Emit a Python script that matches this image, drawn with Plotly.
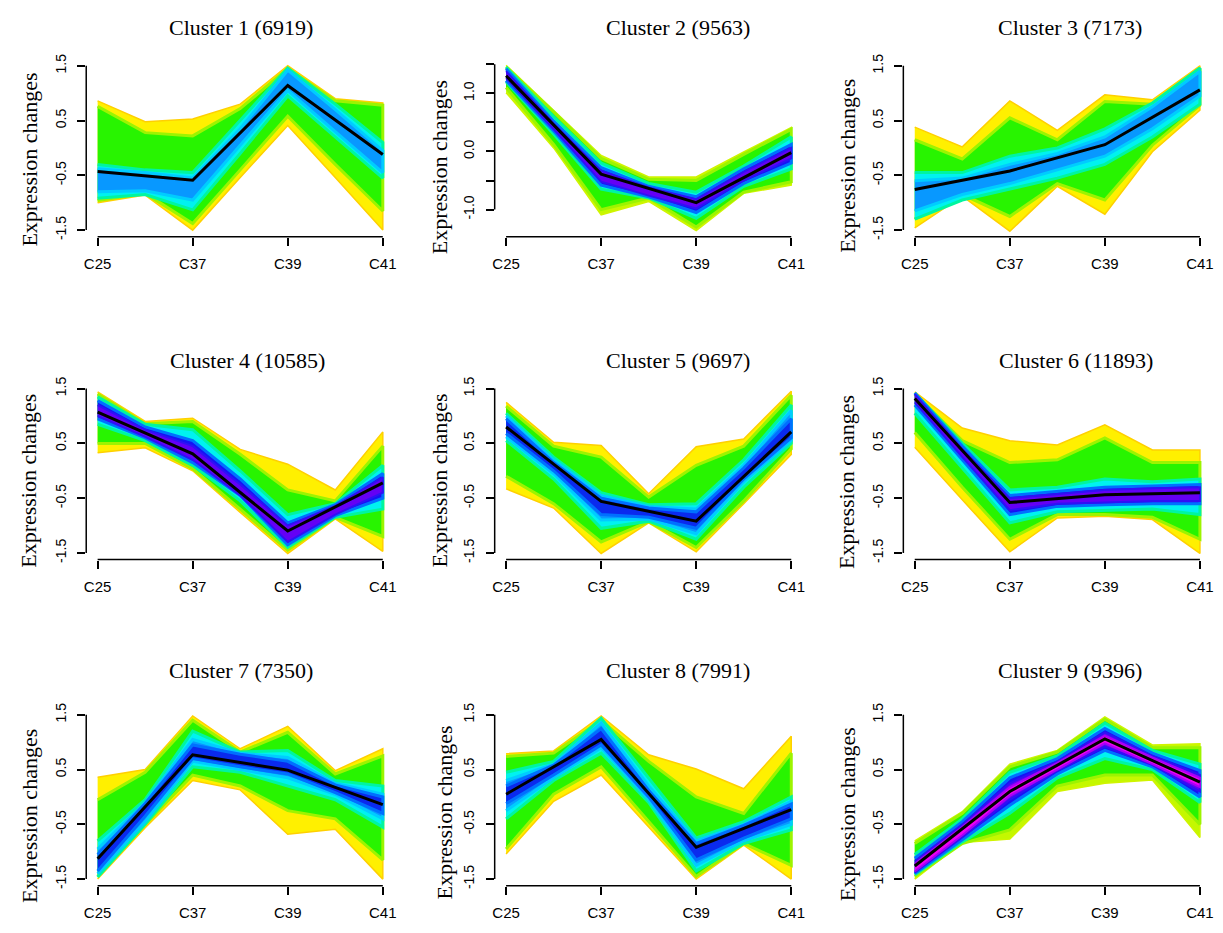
import plotly.graph_objects as go

# ---------------- data ----------------
time_labels = ["C25", "C37", "C39", "C41"]
time_pos = [0, 1, 2, 3]
knots = [0, 0.5, 1, 1.5, 2, 2.5, 3]

cluster_ids = [1, 2, 3, 4, 5, 6, 7, 8, 9]
cluster_sizes = [6919, 9563, 7173, 10585, 9697, 11893, 7350, 7991, 9396]

# centroid lines
c1_center = [-0.43, -0.59, 1.14, -0.12]
c2_center = [1.30, -0.39, -0.88, -0.02]
c3_center = [-0.76, -0.42, 0.06, 1.06]
c4_center = [1.07, 0.31, -1.10, -0.22]
c5_center = [0.80, -0.56, -0.92, 0.71]
c6_center = [1.32, -0.58, -0.44, -0.40]
c7_center = [-1.13, 0.77, 0.49, -0.14]
c8_center = [0.05, 1.05, -0.92, -0.23]
c9_center = [-1.26, 0.10, 1.06, 0.27]

# membership bands (upper edge, lower edge) at knots, outer -> inner
c1_bands = [
    ("outer_y", [0.86, 0.48, 0.53, 0.80, 1.50, 0.90, 0.82], [-1.00, -0.86, -1.50, -0.54, 0.41, -0.54, -1.50]),
    ("green", [0.76, 0.28, 0.22, 0.72, 1.45, 0.86, 0.78], [-0.96, -0.83, -1.38, -0.40, 0.58, -0.30, -1.15]),
    ("cyan", [-0.30, -0.40, -0.45, 0.50, 1.46, 0.80, 0.10], [-0.92, -0.85, -1.13, -0.10, 0.95, 0.20, -0.55]),
    ("sky", [-0.38, -0.45, -0.55, 0.35, 1.42, 0.70, -0.05], [-0.80, -0.78, -0.95, 0.05, 1.05, 0.30, -0.45]),
]
c2_bands = [
    ("outer_yg", [1.48, 0.70, -0.07, -0.44, -0.44, -0.01, 0.41], [1.01, 0.06, -1.09, -0.86, -1.36, -0.72, -0.58]),
    ("green", [1.45, 0.68, -0.12, -0.48, -0.50, -0.05, 0.38], [1.10, 0.12, -1.00, -0.80, -1.30, -0.70, -0.52]),
    ("cyan", [1.45, 0.60, -0.20, -0.55, -0.70, -0.25, 0.25], [1.20, 0.30, -0.65, -0.80, -1.15, -0.60, -0.30]),
    ("blue", [1.42, 0.52, -0.28, -0.60, -0.78, -0.30, 0.12], [1.22, 0.35, -0.58, -0.78, -1.05, -0.55, -0.20]),
    ("purple", [1.38, 0.48, -0.33, -0.62, -0.82, -0.35, 0.06], [1.26, 0.38, -0.52, -0.76, -0.98, -0.50, -0.12]),
]
c3_bands = [
    ("outer_y", [0.38, 0.02, 0.86, 0.32, 0.97, 0.88, 1.50], [-1.46, -0.88, -1.52, -0.70, -1.21, -0.07, 0.69]),
    ("green", [0.15, -0.20, 0.55, 0.15, 0.85, 0.80, 1.45], [-1.30, -0.85, -1.25, -0.65, -0.95, 0.05, 0.78]),
    ("cyan", [-0.45, -0.45, -0.15, 0.00, 0.35, 0.82, 1.46], [-1.30, -0.95, -0.75, -0.55, -0.30, 0.20, 0.80]),
    ("sky", [-0.60, -0.55, -0.30, -0.10, 0.20, 0.75, 1.40], [-1.15, -0.85, -0.65, -0.40, -0.15, 0.35, 0.95]),
]
c4_bands = [
    ("outer_y", [1.44, 0.90, 0.96, 0.39, 0.12, -0.35, 0.71], [0.33, 0.42, 0.00, -0.76, -1.51, -0.88, -1.47]),
    ("green", [1.40, 0.86, 0.90, 0.30, -0.35, -0.55, 0.45], [0.50, 0.50, 0.04, -0.70, -1.45, -0.85, -1.20]),
    ("cyan", [1.35, 0.85, 0.75, 0.00, -0.80, -0.60, 0.10], [0.85, 0.55, 0.10, -0.55, -1.40, -0.85, -0.70]),
    ("blue", [1.28, 0.80, 0.55, -0.15, -0.95, -0.62, -0.05], [0.95, 0.60, 0.15, -0.45, -1.35, -0.82, -0.50]),
    ("purple", [1.20, 0.75, 0.45, -0.25, -1.00, -0.64, -0.12], [1.00, 0.62, 0.20, -0.45, -1.30, -0.80, -0.40]),
]
c5_bands = [
    ("outer_y", [1.25, 0.52, 0.46, -0.42, 0.44, 0.58, 1.45], [-0.33, -0.68, -1.51, -0.95, -1.48, -0.60, 0.30]),
    ("green", [1.18, 0.45, 0.25, -0.48, 0.10, 0.45, 1.38], [-0.10, -0.60, -1.30, -0.93, -1.40, -0.55, 0.40]),
    ("cyan", [1.05, 0.25, -0.40, -0.62, -0.60, 0.20, 1.20], [0.55, -0.15, -1.05, -0.92, -1.25, -0.30, 0.50]),
    ("sky", [1.00, 0.20, -0.45, -0.65, -0.70, 0.10, 1.10], [0.62, -0.05, -0.90, -0.88, -1.15, -0.20, 0.55]),
    ("dblue", [0.95, 0.15, -0.50, -0.68, -0.75, 0.05, 0.95], [0.68, 0.00, -0.80, -0.85, -1.05, -0.15, 0.60]),
]
c6_bands = [
    ("outer_y", [1.44, 0.78, 0.55, 0.47, 0.84, 0.38, 0.38], [0.43, -0.53, -1.48, -0.86, -0.83, -0.89, -1.51]),
    ("green", [1.40, 0.55, 0.15, 0.20, 0.60, 0.15, 0.15], [0.70, -0.30, -1.25, -0.80, -0.80, -0.85, -1.25]),
    ("cyan", [1.42, 0.50, -0.35, -0.30, -0.15, -0.20, -0.15], [1.05, 0.05, -0.95, -0.75, -0.72, -0.70, -0.80]),
    ("blue", [1.42, 0.45, -0.45, -0.38, -0.30, -0.28, -0.25], [1.20, 0.20, -0.80, -0.65, -0.62, -0.60, -0.60]),
    ("purple", [1.40, 0.40, -0.50, -0.43, -0.35, -0.32, -0.30], [1.25, 0.25, -0.72, -0.60, -0.58, -0.55, -0.55]),
]
c7_bands = [
    ("outer_y", [0.36, 0.50, 1.48, 0.88, 1.29, 0.48, 0.88], [-1.50, -0.56, 0.30, 0.13, -0.68, -0.59, -1.50]),
    ("green", [-0.05, 0.45, 1.40, 0.82, 1.18, 0.42, 0.75], [-1.45, -0.50, 0.40, 0.20, -0.25, -0.40, -1.15]),
    ("cyan", [-0.80, -0.05, 1.20, 0.82, 0.85, 0.30, 0.20], [-1.46, -0.50, 0.55, 0.45, 0.20, -0.05, -0.55]),
    ("sky", [-0.95, -0.10, 1.05, 0.80, 0.72, 0.25, 0.05], [-1.40, -0.45, 0.65, 0.50, 0.35, 0.05, -0.40]),
    ("dblue", [-1.05, -0.12, 0.95, 0.78, 0.65, 0.22, 0.00], [-1.35, -0.35, 0.70, 0.55, 0.42, 0.08, -0.30]),
]
c8_bands = [
    ("outer_y", [0.79, 0.84, 1.48, 0.77, 0.51, 0.15, 1.11], [-1.04, -0.08, 0.40, -0.55, -1.50, -0.88, -1.50]),
    ("green", [0.74, 0.80, 1.40, 0.65, 0.00, -0.30, 0.80], [-0.95, 0.05, 0.55, -0.45, -1.45, -0.85, -1.25]),
    ("cyan", [0.45, 0.65, 1.44, 0.35, -0.75, -0.45, 0.00], [-0.40, 0.30, 0.80, -0.10, -1.35, -0.85, -0.60]),
    ("sky", [0.30, 0.60, 1.35, 0.20, -0.80, -0.50, -0.08], [-0.25, 0.35, 0.90, -0.05, -1.25, -0.80, -0.50]),
    ("dblue", [0.20, 0.58, 1.25, 0.12, -0.85, -0.52, -0.13], [-0.12, 0.40, 0.95, 0.00, -1.15, -0.75, -0.40]),
]
c9_bands = [
    ("outer_yg", [-0.80, -0.27, 0.60, 0.85, 1.46, 0.95, 0.97], [-1.50, -0.83, -0.77, 0.10, 0.25, 0.31, -0.74]),
    ("green", [-0.85, -0.30, 0.55, 0.82, 1.42, 0.90, 0.90], [-1.45, -0.85, -0.60, 0.20, 0.40, 0.40, -0.50]),
    ("cyan", [-1.05, -0.40, 0.45, 0.75, 1.35, 0.85, 0.60], [-1.42, -0.82, -0.30, 0.35, 0.70, 0.50, -0.10]),
    ("blue", [-1.12, -0.45, 0.35, 0.70, 1.25, 0.80, 0.48], [-1.40, -0.78, -0.15, 0.42, 0.85, 0.55, 0.00]),
    ("purple", [-1.18, -0.50, 0.25, 0.65, 1.18, 0.75, 0.40], [-1.38, -0.74, -0.05, 0.48, 0.92, 0.58, 0.10]),
    ("magenta", [-1.22, -0.55, 0.18, 0.62, 1.12, 0.72, 0.35], [-1.36, -0.70, 0.02, 0.50, 0.98, 0.60, 0.18]),
]

centers = [c1_center, c2_center, c3_center, c4_center, c5_center,
           c6_center, c7_center, c8_center, c9_center]
bands = [c1_bands, c2_bands, c3_bands, c4_bands, c5_bands,
         c6_bands, c7_bands, c8_bands, c9_bands]

# y axis ticks per panel
std_ticks = [-1.5, -0.5, 0.5, 1.5]
std_ticktext = ["-1.5", "-0.5", "0.5", "1.5"]
c2_ticks = [-1.0, -0.5, 0.0, 0.5, 1.0, 1.5]
c2_ticktext = ["-1.0", "", "0.0", "", "1.0", ""]

# ---------------- style ----------------
fill_colors = {
    "outer_y": "#FFF000", "outer_yg": "#C4F800", "green": "#28F400",
    "cyan": "#00F2F0", "sky": "#0898FF", "blue": "#1414F5",
    "dblue": "#0A2AEE", "purple": "#6400F5", "magenta": "#F000F5",
}
edge_colors = {
    "outer_y": "#FFD000", "outer_yg": "#D0F400", "green": "#9CF400",
    "cyan": "#00F5A0", "sky": "#00CCFF", "blue": "#0070FF",
    "dblue": "#0070FF", "purple": "#3010F5", "magenta": "#A800F5",
}
edge_widths = {
    "outer_y": 1.5, "outer_yg": 1.5, "green": 3, "cyan": 3, "sky": 3,
    "blue": 3, "dblue": 3, "purple": 2, "magenta": 2,
}

W, H = 1223, 933
col_px = [(84.5, 393.5), (494.3, 803.3), (904.3, 1213.3)]
row_px = [(54.7, 233.7), (380.3, 559.3), (709.3, 888.3)]
title_pos = [(240, 23), (678, 23), (1072, 23),
             (246, 359), (678, 359), (1078, 359),
             (240, 671), (678, 671), (1072, 671)]
ylab_pos = [(28, 156), (439, 164), (848, 162),
            (27, 480), (439, 480), (848, 481),
            (28, 818), (443, 815), (848, 816)]

fig = go.Figure()
layout = dict(
    width=W, height=H, margin=dict(l=0, r=0, t=0, b=0),
    paper_bgcolor="white", plot_bgcolor="white", showlegend=False,
)
shapes = []
annotations = []

for i in range(9):
    n = i + 1
    sfx = "" if n == 1 else str(n)
    r, c = divmod(i, 3)
    xd = [col_px[c][0] / W, col_px[c][1] / W]
    yd = [1 - row_px[r][1] / H, 1 - row_px[r][0] / H]

    for name, hi, lo in bands[i]:
        fig.add_trace(go.Scatter(
            x=knots + knots[::-1], y=hi + lo[::-1],
            fill="toself", fillcolor=fill_colors[name],
            line=dict(color=edge_colors[name], width=edge_widths[name]),
            mode="lines", hoverinfo="skip",
            xaxis="x" + sfx, yaxis="y" + sfx,
        ))
    fig.add_trace(go.Scatter(
        x=time_pos, y=centers[i], mode="lines",
        line=dict(color="black", width=3),
        xaxis="x" + sfx, yaxis="y" + sfx,
    ))

    if n == 2:
        yr = [-1.466, 1.585]
        tv, tt = c2_ticks, c2_ticktext
        ylo, yhi = -1.0, 1.5
    else:
        yr = [-1.62, 1.62]
        tv, tt = std_ticks, std_ticktext
        ylo, yhi = -1.5, 1.5

    layout["xaxis" + sfx] = dict(
        domain=xd, anchor="y" + sfx, range=[-0.12, 3.12],
        tickvals=time_pos, ticktext=time_labels,
        ticks="outside", ticklen=8, tickwidth=1.5, tickcolor="black",
        showline=False, showgrid=False, zeroline=False,
        tickfont=dict(family="Liberation Sans, Arial", size=15, color="black"),
        ticklabelstandoff=5,
    )
    layout["yaxis" + sfx] = dict(
        domain=yd, anchor="x" + sfx, range=yr,
        tickvals=tv, ticktext=tt, tickangle=-90,
        ticks="outside", ticklen=8, tickwidth=1.5, tickcolor="black",
        showline=False, showgrid=False, zeroline=False,
        tickfont=dict(family="Liberation Sans, Arial", size=14, color="black"),
        ticklabelstandoff=6,
    )
    shapes.append(dict(type="line", xref="x" + sfx, yref="y" + sfx + " domain",
                       x0=0, x1=3, y0=0, y1=0, line=dict(color="black", width=1.5)))
    shapes.append(dict(type="line", xref="x" + sfx + " domain", yref="y" + sfx,
                       x0=0, x1=0, y0=ylo, y1=yhi, line=dict(color="black", width=1.5)))

    tx, ty = title_pos[i]
    annotations.append(dict(
        text=f"Cluster {cluster_ids[i]} ({cluster_sizes[i]})",
        x=tx / W, y=1 - ty / H, xref="paper", yref="paper",
        xanchor="center", yanchor="middle", showarrow=False,
        font=dict(family="Liberation Serif, Times New Roman", size=22, color="black"),
    ))
    lx, ly = ylab_pos[i]
    annotations.append(dict(
        text="Expression changes", textangle=-90,
        x=lx / W, y=1 - ly / H, xref="paper", yref="paper",
        xanchor="center", yanchor="middle", showarrow=False,
        font=dict(family="Liberation Serif, Times New Roman", size=22, color="black"),
    ))

layout["shapes"] = shapes
layout["annotations"] = annotations
fig.update_layout(**layout)
fig.write_html("out.html")
